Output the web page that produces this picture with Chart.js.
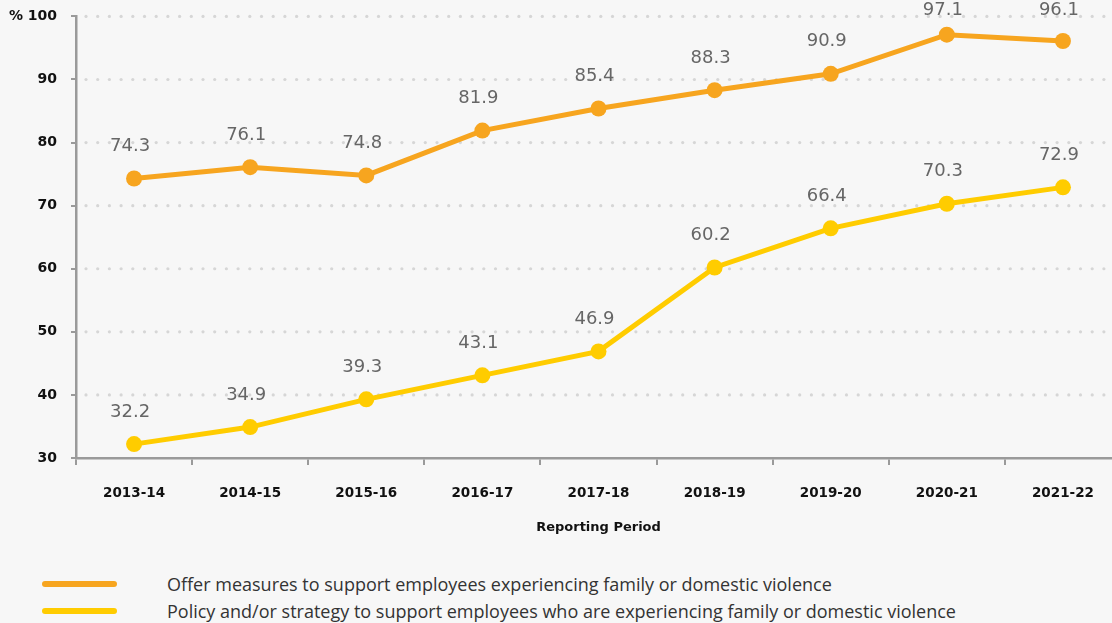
<!DOCTYPE html>
<html>
<head>
<meta charset="utf-8">
<script src="https://cdn.jsdelivr.net/npm/chart.js@4"></script>
<style>
  html, body { margin: 0; padding: 0; background: #f7f7f7; }
  body { width: 1112px; height: 623px; position: relative; overflow: hidden; font-family: "Open Sans", sans-serif; }
  #wrap { position: absolute; left: 0; top: -6px; width: 1129px; height: 551px; }
  .legend { position: absolute; left: 42px; top: 0; font-size: 18px; color: #333; }
  .legend .row { position: absolute; left: 0; white-space: nowrap; height: 22px; line-height: 22px; }
  .legend .swatch { position: absolute; left: 0; top: 8px; width: 75px; height: 6px; border-radius: 3px; }
  .legend .text { position: absolute; left: 125px; top: 0; }
</style>
</head>
<body>
<div id="wrap"><canvas id="chart"></canvas></div>
<div class="legend" id="legend"></div>
<script>
// Reporting periods and survey results (%)
const periods = ['2013-14', '2014-15', '2015-16', '2016-17', '2017-18', '2018-19', '2019-20', '2020-21', '2021-22'];
const offerMeasures = [74.3, 76.1, 74.8, 81.9, 85.4, 88.3, 90.9, 97.1, 96.1];
const policyStrategy = [32.2, 34.9, 39.3, 43.1, 46.9, 60.2, 66.4, 70.3, 72.9];
const seriesNames = [
    'Offer measures to support employees experiencing family or domestic violence',
    'Policy and/or strategy to support employees who are experiencing family or domestic violence'
];
const seriesColors = ['#f7a51f', '#ffcc00'];

const axisFont = '"DejaVu Sans", sans-serif';

// dotted horizontal gridlines, round dots like the printed report
const dotGrid = {
    id: 'dotGrid',
    beforeDatasetsDraw(chart) {
        const { ctx, chartArea, scales } = chart;
        ctx.save();
        ctx.fillStyle = '#d6d6d6';
        scales.y.ticks.forEach(t => {
            if (t.value === scales.y.min) return;
            const y = scales.y.getPixelForValue(t.value);
            for (let x = chartArea.left + 10; x < 1108; x += 11.7) {
                ctx.beginPath();
                ctx.arc(x, y, 1.6, 0, Math.PI * 2);
                ctx.fill();
            }
        });
        ctx.restore();
    }
};

// value labels above each point (kept inside the canvas at the top)
const pointLabels = {
    id: 'pointLabels',
    afterDatasetsDraw(chart) {
        const { ctx } = chart;
        ctx.save();
        ctx.font = '18px "DejaVu Sans", sans-serif';
        ctx.fillStyle = '#666666';
        ctx.textAlign = 'center';
        ctx.textBaseline = 'middle';
        chart.data.datasets.forEach((ds, i) => {
            chart.getDatasetMeta(i).data.forEach((pt, j) => {
                const y = Math.max(pt.y - 32, 16);
                ctx.fillText(ds.data[j].toFixed(1), pt.x - 4, y);
            });
        });
        ctx.restore();
    }
};

const ctx = document.getElementById('chart').getContext('2d');
new Chart(ctx, {
    type: 'line',
    data: {
        labels: periods,
        datasets: [
            { label: seriesNames[0], data: offerMeasures, borderColor: seriesColors[0], backgroundColor: seriesColors[0] },
            { label: seriesNames[1], data: policyStrategy, borderColor: seriesColors[1], backgroundColor: seriesColors[1] }
        ]
    },
    options: {
        responsive: true,
        maintainAspectRatio: false,
        animation: false,
        layout: { padding: { top: 10, right: 2, bottom: 0, left: 0 } },
        elements: {
            line: { borderWidth: 5, tension: 0 },
            point: { radius: 8, hoverRadius: 8, borderWidth: 0 }
        },
        plugins: {
            legend: { display: false },
            tooltip: { enabled: false }
        },
        scales: {
            x: {
                offset: true,
                border: { color: '#9a9a9a', width: 2.5 },
                grid: { offset: true, drawOnChartArea: false, tickLength: 7, color: '#9a9a9a', lineWidth: 2 },
                ticks: { color: '#111', padding: 20, font: { family: axisFont, size: 13.5, weight: 'bold' } },
                title: { display: true, text: 'Reporting Period', color: '#111', padding: { top: 14, bottom: 10 },
                         font: { family: axisFont, size: 13, weight: 'bold' } },
                afterFit(scale) { scale.height = 87; }
            },
            y: {
                min: 30,
                max: 100,
                border: { color: '#9a9a9a', width: 2.5 },
                grid: { drawOnChartArea: false, tickLength: 5, color: '#9a9a9a', lineWidth: 2 },
                ticks: {
                    stepSize: 10,
                    padding: 14,
                    color: '#111',
                    font: { family: axisFont, size: 14, weight: 'bold' },
                    callback: v => v === 100 ? '% 100' : v
                },
                afterFit(scale) { scale.width = 76; }
            }
        }
    },
    plugins: [dotGrid, pointLabels]
});

// legend under the chart
const legend = document.getElementById('legend');
seriesNames.forEach((name, i) => {
    const row = document.createElement('div');
    row.className = 'row';
    row.style.top = (573 + i * 27) + 'px';
    row.innerHTML = '<span class="swatch" style="background:' + seriesColors[i] + '"></span><span class="text">' + name + '</span>';
    legend.appendChild(row);
});
</script>
</body>
</html>
